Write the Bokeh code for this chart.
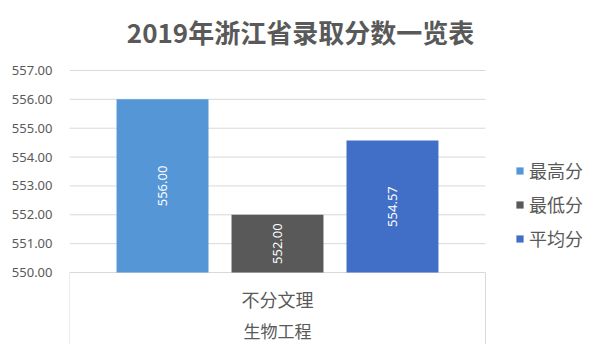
import math
from bokeh.plotting import figure
from bokeh.models import (Range1d, FixedTicker, Legend, LegendItem,
                          ColumnDataSource, NumeralTickFormatter)
from bokeh.core.properties import value
from bokeh.embed import file_html
from bokeh.resources import INLINE

# ---- data ----
chart_title = "2019年浙江省录取分数一览表"
group_label = "生物工程"
categories = ["不分文理"]
series = ["最高分", "最低分", "平均分"]
values = [556.00, 552.00, 554.57]
y_ticks = [550, 551, 552, 553, 554, 555, 556, 557]
baseline = 550

# ---- style / layout ----
colors = ["#5597d6", "#595959", "#416ec6"]
offsets = [-0.2764, 0.0, 0.2764]
bar_width = 0.221
txt = "#595959"
grid = "#d9d9d9"
cjk = "Noto Sans CJK SC"
W, H = 584, 344
left = 69
px_x = 416.0                      # pixels per category slot
px_y = (272 - 70) / 7.0           # pixels per score point
n = len(categories)
x_end = (W - left) / px_x
y_top_px, y_bot_px = 70, 272      # frame px of top tick / baseline
y_end = y_ticks[-1] + y_top_px / px_y
y_start = baseline - (H - y_bot_px) / px_y

p = figure(width=W, height=H, output_backend="svg", toolbar_location=None,
           x_range=Range1d(0, x_end), y_range=Range1d(y_start, y_end),
           min_border_left=left, min_border_right=0, min_border_top=0,
           min_border_bottom=0)
p.background_fill_color = "white"
p.border_fill_color = "white"
p.outline_line_color = None

p.xaxis.visible = False
p.xgrid.visible = False
p.ygrid.visible = False
p.yaxis.ticker = FixedTicker(ticks=y_ticks)
p.yaxis.formatter = NumeralTickFormatter(format="0.00")
p.yaxis.axis_line_color = None
p.yaxis.major_tick_line_color = None
p.yaxis.minor_tick_line_color = None
p.yaxis.major_tick_out = 0
p.yaxis.major_tick_in = 0
p.yaxis.major_label_text_color = txt
p.yaxis.major_label_text_font = "Noto Sans"
p.yaxis.major_label_text_font_size = "13px"
p.yaxis.major_label_standoff = 17

# horizontal grid lines over the category area
p.segment(x0=[0] * len(y_ticks), x1=[n] * len(y_ticks), y0=y_ticks, y1=y_ticks,
          line_color=grid, line_width=1)
# category separators below the baseline
p.segment(x0=list(range(n + 1)), x1=list(range(n + 1)),
          y0=[baseline] * (n + 1), y1=[y_start] * (n + 1),
          line_color=grid, line_width=1)

items = []
for s, v, c, off in zip(series, values, colors, offsets):
    xs = [i + 0.5 + off for i in range(n)]
    src = ColumnDataSource(dict(x=xs, top=[v], mid=[(v + baseline) / 2],
                                lab=[f"{v:.2f}"]))
    r = p.vbar(x="x", top="top", bottom=baseline, width=bar_width, source=src,
               fill_color=c, line_color=None)
    p.text(x="x", y="mid", text="lab", source=src,
           angle=math.pi / 2, text_align="center", text_baseline="middle",
           text_color="white", text_font=value("Noto Sans"), text_font_size="13px")
    items.append(LegendItem(label=s, renderers=[r]))

# category axis labels
cx = [i + 0.5 for i in range(n)]
p.text(x=cx, y=[baseline - 26 / px_y] * n, text=categories,
       text_align="center", text_baseline="middle", text_color=txt,
       text_font=value(cjk), text_font_size="18px")
p.text(x=[n / 2], y=[baseline - 58 / px_y], text=[group_label],
       text_align="center", text_baseline="middle", text_color=txt,
       text_font=value(cjk), text_font_size="17px")

# chart title
p.text(x=[(300 - left) / px_x], y=[y_ticks[-1] + (70 - 31) / px_y], text=[chart_title],
       text_align="center", text_baseline="middle", text_color=txt,
       text_font=value(cjk), text_font_size="26px", text_font_style="bold")

legend = Legend(items=items, location=(446, 93), orientation="vertical",
                glyph_width=9, glyph_height=9, label_height=26, spacing=8,
                label_standoff=5, label_text_font=cjk, label_text_font_size="18px",
                label_text_color=txt, border_line_color=None,
                background_fill_alpha=0, padding=0, margin=0)
p.add_layout(legend, "center")

open("out.html", "w").write(file_html(p, INLINE))
